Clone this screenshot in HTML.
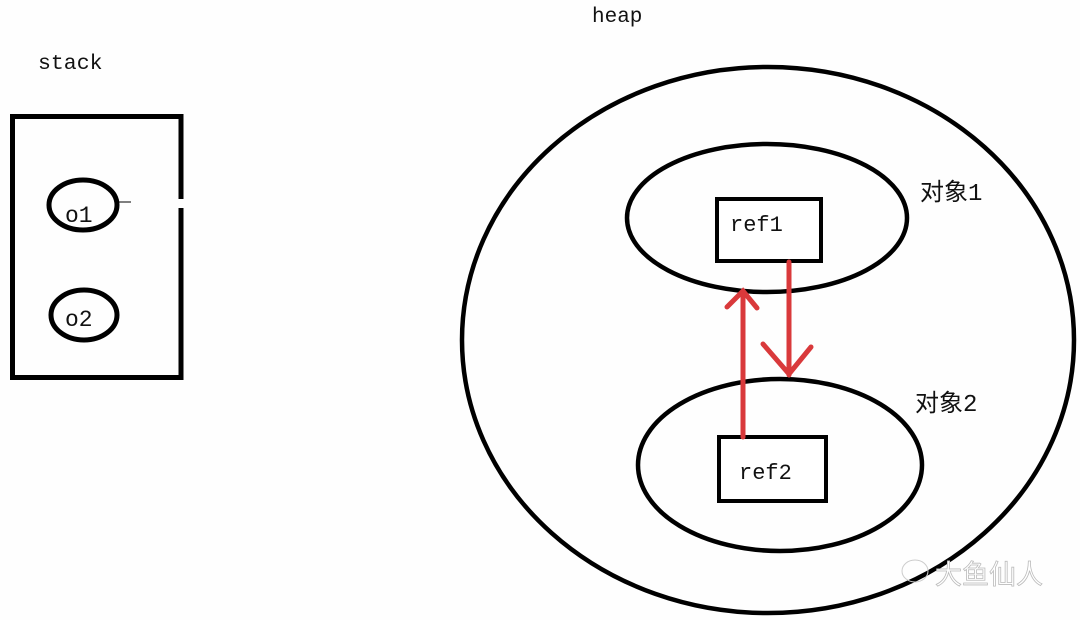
<!DOCTYPE html>
<html><head><meta charset="utf-8"><style>
html,body{margin:0;padding:0;background:#fff;}
svg{display:block}
text{font-family:"Liberation Mono","Noto Sans CJK SC",monospace;fill:#111}
</style></head><body>
<svg width="1080" height="620" viewBox="0 0 1080 620">
<rect width="1080" height="620" fill="#fefefe"/>
<text x="592" y="22" font-size="21">heap</text>
<text x="38" y="69" font-size="21.5">stack</text>
<!-- stack box -->
<path d="M181 199 L181 116.5 L12.5 116.5 L12.5 377.5 L181 377.5 L181 208" fill="none" stroke="#000" stroke-width="5"/>
<ellipse cx="83" cy="205" rx="34" ry="25" fill="none" stroke="#000" stroke-width="5"/>
<line x1="117" y1="202" x2="131" y2="202" stroke="#000" stroke-width="1"/>
<text x="65" y="222" font-size="23" font-family="Liberation Sans,sans-serif">o1</text>
<ellipse cx="84" cy="315" rx="33" ry="25" fill="none" stroke="#000" stroke-width="5"/>
<text x="65" y="326" font-size="23" font-family="Liberation Sans,sans-serif">o2</text>
<!-- heap -->
<ellipse cx="768" cy="340" rx="306" ry="273" fill="none" stroke="#000" stroke-width="4.5"/>
<ellipse cx="767" cy="218" rx="140" ry="74" fill="none" stroke="#000" stroke-width="4.5"/>
<ellipse cx="780" cy="465" rx="142" ry="86" fill="none" stroke="#000" stroke-width="4.5"/>
<rect x="717" y="199" width="104" height="62" fill="#fff" stroke="#000" stroke-width="4"/>
<text x="730" y="231" font-size="22">ref1</text>
<rect x="719" y="437" width="107" height="64" fill="#fff" stroke="#000" stroke-width="4"/>
<text x="739" y="479" font-size="22">ref2</text>
<text x="920" y="200" font-size="24">对象1</text>
<text x="915" y="411" font-size="24">对象2</text>
<!-- red arrows -->
<g stroke="#d9393b" stroke-width="5" fill="none" stroke-linecap="round">
<line x1="743" y1="437" x2="743" y2="292"/>
<polyline points="727,307 743,291 757,308"/>
<line x1="789" y1="262" x2="789" y2="375"/>
<polyline points="763,344 789,374 811,347"/>
</g>
<text x="935" y="584" font-size="27" font-family="Noto Sans CJK SC,sans-serif" style="fill:#ffffff;stroke:#bbb;stroke-width:0.8">大鱼仙人</text>
<ellipse cx="915" cy="571" rx="13" ry="11" fill="none" stroke="#ccc" stroke-width="1"/>
</svg>
</body></html>
